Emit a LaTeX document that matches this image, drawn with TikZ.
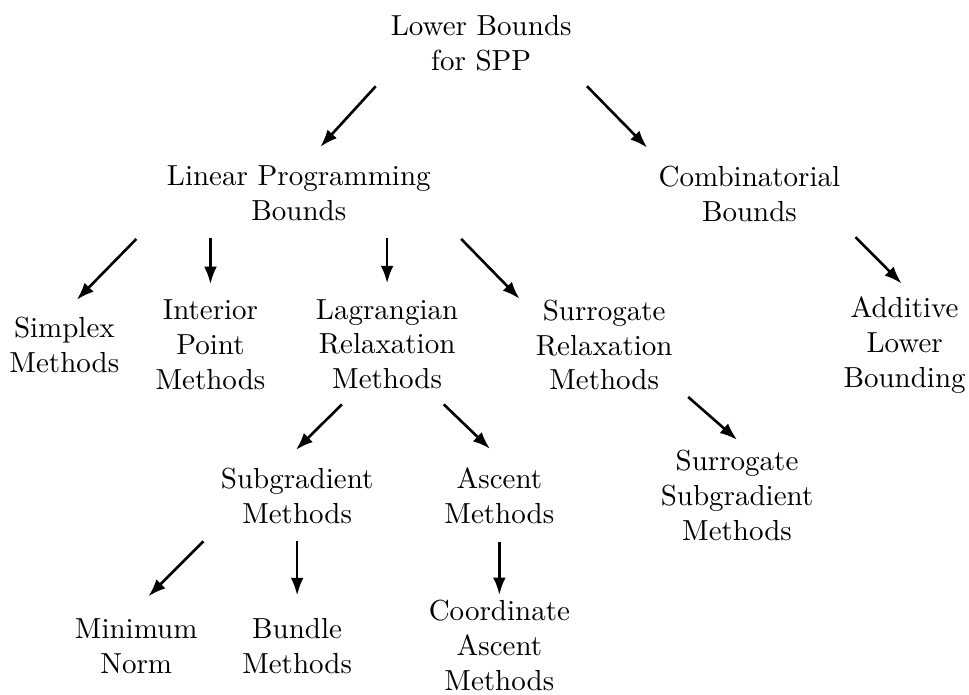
\documentclass[tikz,border=0pt]{standalone}
\usepackage{tikz}
\usetikzlibrary{arrows.meta}
\tikzstyle{txt} = [align=center, inner sep=3.33pt]
\tikzstyle{arrow} = [-{Latex[length=6pt, width=4.4pt]}, line width=0.9pt, shorten <=2.5pt, shorten >=2pt]

\begin{document}
\begin{tikzpicture}
	\useasboundingbox (0,0) rectangle (11.74,-8.42);

	\node[txt](root) at (5.83, -0.52){Lower Bounds\\for SPP};

	\node[txt](lp) at (3.62, -2.34){Linear Programming\\Bounds};
	\node[txt](comb) at (9.08, -2.35){Combinatorial\\Bounds};
	\draw[arrow, shorten >=4pt](root.south west) -- (lp.70);
	\draw[arrow, shorten >=4pt](root.south east) -- (comb.158);

	\node[txt](simplex) at (0.78, -4.18){Simplex\\Methods};
	\node[txt](interior) at (2.55, -4.18){Interior\\Point\\Methods};
	\node[txt](lagr) at (4.69, -4.17){Lagrangian\\Relaxation\\Methods};
	\node[txt](surr) at (7.32, -4.18){Surrogate\\Relaxation\\Methods};
	\node[txt](additive) at (10.96, -4.18){Additive\\Lower\\Bounding};
	\draw[arrow, shorten <=10pt, shorten >=3.5pt](lp.190) -- (simplex.82);
	\draw[arrow](lp.south -| interior.north) -- (interior.north);
	\draw[arrow](lp.south -| lagr.north) -- (lagr.north);
	\draw[arrow, shorten <=10pt, shorten >=3pt](lp.350) -- (surr.153);
	\draw[arrow, shorten >=1.5pt](comb.south east) -- (additive.north);

	\node[txt](subgr) at (3.60, -6.01){Subgradient\\Methods};
	\node[txt](ascent) at (6.05, -6.01){Ascent\\Methods};
	\node[txt](surrsub) at (8.93, -6.00){Surrogate\\Subgradient\\Methods};
	\draw[arrow, shorten >=4pt](lagr.234) -- (subgr.104);
	\draw[arrow, shorten >=4.5pt](lagr.313) -- (ascent.north);
	\draw[arrow, shorten >=0pt](surr.329) -- (surrsub.north);

	\node[txt](minnorm) at (1.65, -7.83){Minimum\\Norm};
	\node[txt](bundle) at (3.60, -7.83){Bundle\\Methods};
	\node[txt](coord) at (6.05, -7.82){Coordinate\\Ascent\\Methods};
	\draw[arrow, shorten <=3.5pt, shorten >=6pt](subgr.south west) -- (minnorm.north);
	\draw[arrow, shorten >=4.5pt](subgr.south) -- (bundle.north);
	\draw[arrow, shorten >=-1.7pt](ascent.south) -- (coord.north);
\end{tikzpicture}
\end{document}
